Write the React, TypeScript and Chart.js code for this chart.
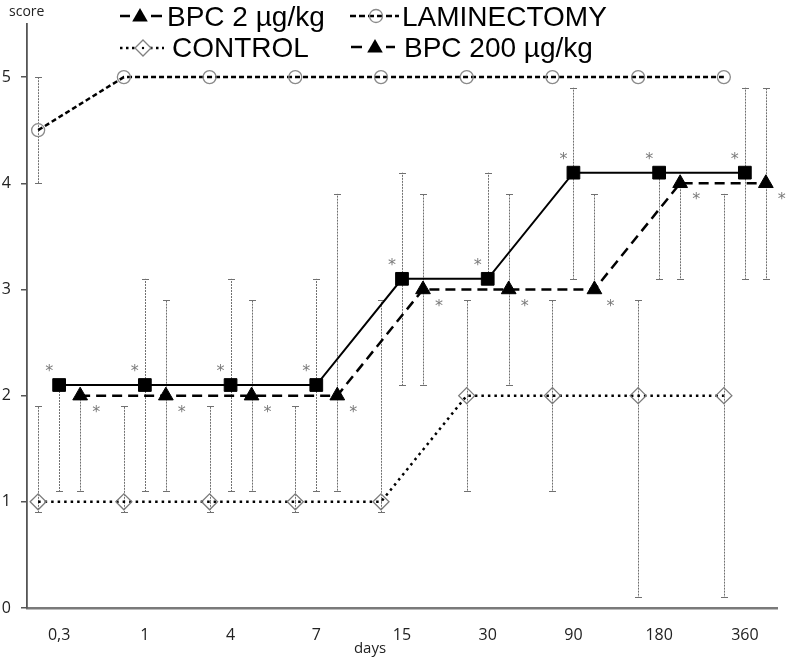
import React, { useEffect, useRef } from 'react';
import { Chart, registerables } from 'chart.js';

Chart.register(...registerables);

// ---- data ----
const categories = ['0,3', '1', '4', '7', '15', '30', '90', '180', '360'];
const yTicks = [0, 1, 2, 3, 4, 5];

const laminectomy = [4.5, 5, 5, 5, 5, 5, 5, 5, 5];
const laminectomyLow = [4.0, 5, 5, 5, 5, 5, 5, 5, 5];
const laminectomyHigh = [5.0, 5, 5, 5, 5, 5, 5, 5, 5];

const control = [1, 1, 1, 1, 1, 2, 2, 2, 2];
const controlLow = [0.9, 0.9, 0.9, 0.9, 0.9, 1.1, 1.1, 0.1, 0.1];
const controlHigh = [1.9, 1.9, 1.9, 1.9, 2.9, 2.9, 2.9, 2.9, 3.9];

const bpcSquare = [2.1, 2.1, 2.1, 2.1, 3.1, 3.1, 4.1, 4.1, 4.1];
const bpcSquareLow = [1.1, 1.1, 1.1, 1.1, 2.1, 3.1, 3.1, 3.1, 3.1];
const bpcSquareHigh = [2.1, 3.1, 3.1, 3.1, 4.1, 4.1, 4.9, 4.1, 4.9];
const bpcSquareSig = [true, true, true, true, true, true, true, true, true];

const bpcTriangle = [2, 2, 2, 2, 3, 3, 3, 4, 4];
const bpcTriangleLow = [1.1, 1.1, 1.1, 1.1, 2.1, 2.1, 3, 3.1, 3.1];
const bpcTriangleHigh = [2, 2.9, 2.9, 3.9, 3.9, 3.9, 3.9, 4, 4.9];
const bpcTriangleSig = [true, true, true, true, true, true, true, true, true];

const legendLabels = ['BPC 2 µg/kg', 'LAMINECTOMY', 'CONTROL', 'BPC 200 µg/kg'];

const OFF = 0.245;

export default function App() {
  const ref = useRef<HTMLCanvasElement>(null);

  useEffect(() => {
    if (!ref.current) return;
    const toPts = (vals: number[], off: number) => vals.map((v, i) => ({ x: i + off, y: v }));

    const errorSets = [
      { off: -OFF, vals: laminectomy, low: laminectomyLow, high: laminectomyHigh },
      { off: -OFF, vals: control, low: controlLow, high: controlHigh },
      { off: 0, vals: bpcSquare, low: bpcSquareLow, high: bpcSquareHigh },
      { off: OFF, vals: bpcTriangle, low: bpcTriangleLow, high: bpcTriangleHigh },
    ];

    const errorBars = {
      id: 'errorBars',
      beforeDatasetsDraw(chart: any) {
        const { ctx, scales } = chart;
        const x = scales.x, y = scales.y;
        ctx.save();
        ctx.strokeStyle = '#707070';
        ctx.lineWidth = 1;
        errorSets.forEach((s) => {
          s.vals.forEach((v, i) => {
            const px = Math.round(x.getPixelForValue(i + s.off)) + 0.5;
            const yv = y.getPixelForValue(v);
            const ylo = y.getPixelForValue(s.low[i]);
            const yhi = y.getPixelForValue(s.high[i]);
            ctx.setLineDash([2, 1]);
            if (s.low[i] < v) {
              ctx.beginPath(); ctx.moveTo(px, yv); ctx.lineTo(px, ylo); ctx.stroke();
            }
            if (s.high[i] > v) {
              ctx.beginPath(); ctx.moveTo(px, yv); ctx.lineTo(px, yhi); ctx.stroke();
            }
            ctx.setLineDash([]);
            if (s.low[i] < v) {
              const yy = Math.round(ylo) + 0.5;
              ctx.beginPath(); ctx.moveTo(px - 3.5, yy); ctx.lineTo(px + 3.5, yy); ctx.stroke();
            }
            if (s.high[i] > v) {
              const yy = Math.round(yhi) + 0.5;
              ctx.beginPath(); ctx.moveTo(px - 3.5, yy); ctx.lineTo(px + 3.5, yy); ctx.stroke();
            }
          });
        });
        ctx.restore();
      },
    };

    const asterisks = {
      id: 'asterisks',
      afterDatasetsDraw(chart: any) {
        const { ctx, scales } = chart;
        const x = scales.x, y = scales.y;
        ctx.save();
        ctx.fillStyle = '#7a7a7a';
        ctx.font = '16px "DejaVu Sans", sans-serif';
        ctx.textAlign = 'center';
        ctx.textBaseline = 'middle';
        bpcSquare.forEach((v, i) => {
          if (!bpcSquareSig[i]) return;
          ctx.fillText('*', x.getPixelForValue(i) - 10, y.getPixelForValue(v) - 13);
        });
        bpcTriangle.forEach((v, i) => {
          if (!bpcTriangleSig[i]) return;
          ctx.fillText('*', x.getPixelForValue(i + OFF) + 16, y.getPixelForValue(v) + 17);
        });
        ctx.restore();
      },
    };

    const drawTri = (ctx: any, cx: number, cy: number, r: number) => {
      ctx.beginPath();
      ctx.moveTo(cx, cy - r);
      ctx.lineTo(cx + r * 0.866, cy + r * 0.5);
      ctx.lineTo(cx - r * 0.866, cy + r * 0.5);
      ctx.closePath();
      ctx.fill();
    };

    const customLegend = {
      id: 'customLegend',
      afterDraw(chart: any) {
        const { ctx } = chart;
        ctx.save();
        // axis title "score"
        ctx.fillStyle = '#222';
        ctx.font = '14px "Open Sans", sans-serif';
        ctx.textAlign = 'left';
        ctx.textBaseline = 'alphabetic';
        ctx.fillText('score', 9, 16);
        // x axis title
        ctx.font = '15px "Open Sans", sans-serif';
        ctx.textAlign = 'center';
        ctx.fillText('days', 370, 653);

        ctx.strokeStyle = '#000';
        ctx.fillStyle = '#000';
        ctx.lineWidth = 2.5;
        // row 1, item 1: -▲- BPC 2
        ctx.setLineDash([]);
        ctx.beginPath();
        ctx.moveTo(120, 16); ctx.lineTo(130, 16);
        ctx.moveTo(151, 16); ctx.lineTo(162, 16);
        ctx.stroke();
        drawTri(ctx, 140, 17, 9);
        // row 1, item 2: --o-- LAMINECTOMY
        ctx.setLineDash([6, 3]);
        ctx.beginPath();
        ctx.moveTo(350, 16); ctx.lineTo(399, 16);
        ctx.stroke();
        ctx.setLineDash([]);
        ctx.strokeStyle = '#8a8a8a';
        ctx.lineWidth = 1.3;
        ctx.beginPath(); ctx.arc(376, 16, 6.5, 0, Math.PI * 2); ctx.stroke();
        // row 2, item 1: ··◇·· CONTROL
        ctx.strokeStyle = '#000';
        ctx.lineWidth = 2.5;
        ctx.setLineDash([2.5, 3.5]);
        ctx.beginPath();
        ctx.moveTo(120, 48); ctx.lineTo(164, 48);
        ctx.stroke();
        ctx.setLineDash([]);
        ctx.strokeStyle = '#808080';
        ctx.lineWidth = 1.3;
        ctx.fillStyle = '#fff';
        ctx.beginPath();
        ctx.moveTo(143, 40); ctx.lineTo(151, 48); ctx.lineTo(143, 56); ctx.lineTo(135, 48); ctx.closePath();
        ctx.fill(); ctx.stroke();
        ctx.fillStyle = '#000';
        ctx.beginPath(); ctx.arc(143, 48, 1.2, 0, Math.PI * 2); ctx.fill();
        // row 2, item 2: -▲- BPC 200
        ctx.strokeStyle = '#000';
        ctx.lineWidth = 2.5;
        ctx.beginPath();
        ctx.moveTo(351, 47); ctx.lineTo(362, 47);
        ctx.moveTo(386, 47); ctx.lineTo(395, 47);
        ctx.stroke();
        drawTri(ctx, 375, 48, 9);

        ctx.fillStyle = '#000';
        ctx.font = '28px "Liberation Sans", Arial, sans-serif';
        ctx.textAlign = 'left';
        ctx.fillText(legendLabels[0], 167, 26);
        ctx.fillText(legendLabels[1], 402, 26);
        ctx.fillText(legendLabels[2], 172, 57);
        ctx.fillText(legendLabels[3], 404, 57);
        ctx.restore();
      },
    };

    const chart = new Chart(ref.current, {
      type: 'line',
      data: {
        datasets: [
          {
            label: 'BPC 2 µg/kg',
            data: toPts(bpcSquare, 0),
            borderColor: '#000',
            borderWidth: 2,
            pointStyle: 'rect',
            pointRadius: 9,
            pointBackgroundColor: '#000',
            pointBorderColor: '#000',
            pointBorderWidth: 1,
            tension: 0,
          },
          {
            label: 'BPC 200 µg/kg',
            data: toPts(bpcTriangle, OFF),
            borderColor: '#000',
            borderWidth: 2.5,
            borderDash: [10, 6],
            pointStyle: 'triangle',
            pointRadius: 8.5,
            pointBackgroundColor: '#000',
            pointBorderColor: '#000',
            pointBorderWidth: 1,
            tension: 0,
          },
          {
            label: 'LAMINECTOMY',
            data: toPts(laminectomy, -OFF),
            borderColor: '#000',
            borderWidth: 2.5,
            borderDash: [5, 3],
            pointStyle: 'circle',
            pointRadius: 6.5,
            pointBackgroundColor: 'rgba(255,255,255,0)',
            pointBorderColor: '#8a8a8a',
            pointBorderWidth: 1.3,
            tension: 0,
          },
          {
            label: 'CONTROL',
            data: toPts(control, -OFF),
            borderColor: '#000',
            borderWidth: 2.5,
            borderDash: [2.5, 4],
            pointStyle: 'rectRot',
            pointRadius: 8,
            pointBackgroundColor: 'rgba(255,255,255,0)',
            pointBorderColor: '#7a7a7a',
            pointBorderWidth: 1.3,
            tension: 0,
          },
        ],
      },
      options: {
        animation: false,
        responsive: false,
        clip: false as any,
        layout: { padding: { top: 24, right: 7, left: 0, bottom: 0 } },
        plugins: {
          legend: { display: false },
          tooltip: { enabled: false },
        },
        scales: {
          x: {
            type: 'linear',
            min: -0.375,
            max: 8.375,
            afterBuildTicks: (s: any) => {
              s.ticks = categories.map((_, i) => ({ value: i }));
            },
            afterFit: (s: any) => {
              s.height = 53;
            },
            ticks: {
              callback: (_v: any, i: number) => categories[i],
              autoSkip: false,
              maxRotation: 0,
              padding: 10,
              color: '#222',
              font: { family: '"Open Sans", sans-serif', size: 16 },
            },
            grid: { display: false },
            border: { display: true, color: '#7a7a7a', width: 2.5 },
          },
          y: {
            min: 0,
            max: 5.5,
            afterBuildTicks: (s: any) => {
              s.ticks = yTicks.map((v) => ({ value: v }));
            },
            afterFit: (s: any) => {
              s.width = 27;
            },
            ticks: {
              padding: 10,
              color: '#222',
              font: { family: '"Open Sans", sans-serif', size: 16 },
            },
            grid: {
              display: true,
              drawOnChartArea: false,
              drawTicks: true,
              tickLength: 6,
              color: '#555',
              lineWidth: 1.5,
            },
            border: { display: true, color: '#555', width: 1.8 },
          },
        },
      },
      plugins: [errorBars, asterisks, customLegend],
    });

    return () => chart.destroy();
  }, []);

  return (
    <div style={{ position: 'fixed', left: 0, top: 0, width: 787, height: 661, background: '#fff' }}>
      <canvas ref={ref} width={787} height={661} style={{ display: 'block' }} />
    </div>
  );
}
